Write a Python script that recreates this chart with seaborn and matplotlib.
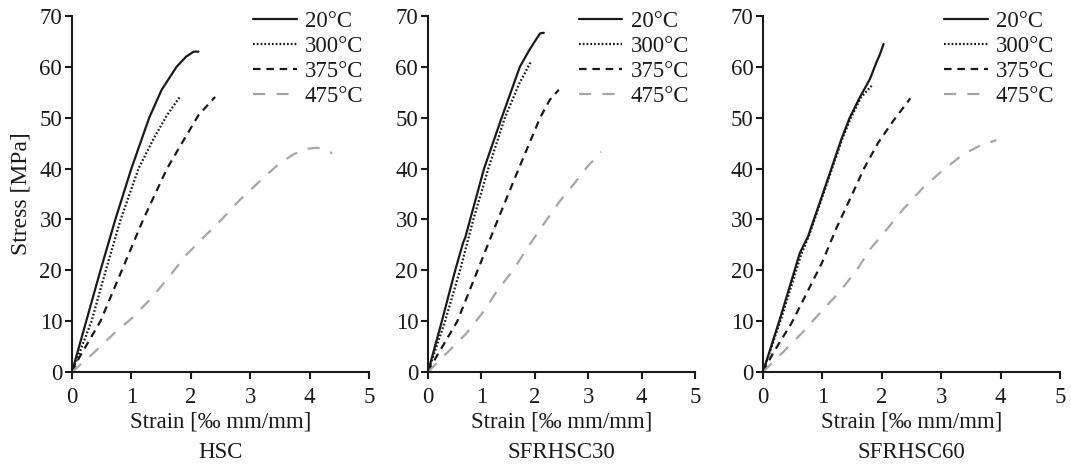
import matplotlib
matplotlib.use("Agg")
import matplotlib.pyplot as plt
import seaborn as sns
import pandas as pd

sns.set_theme(style="ticks")
plt.rcParams["font.family"] = ["Liberation Serif", "DejaVu Serif"]

temps = ["20°C", "300°C", "375°C", "475°C"]
mixes = ["HSC", "SFRHSC30", "SFRHSC60"]

# Stress-strain curves: strain [‰], stress [MPa]
hsc_20_x = [0, 0.24, 0.48, 0.73, 1.00, 1.30, 1.51, 1.76, 1.92, 2.05, 2.13]
hsc_20_y = [0, 10, 20, 30, 40, 50, 55.5, 60, 62, 63, 63]
hsc_300_x = [0, 0.10, 0.33, 0.57, 0.82, 1.12, 1.38, 1.60, 1.81]
hsc_300_y = [0, 3, 10, 20, 30, 40, 46, 50.5, 54]
hsc_375_x = [0, 0.13, 0.48, 0.84, 1.20, 1.60, 1.85, 2.13, 2.41]
hsc_375_y = [0, 3, 10, 20, 30, 40, 45, 50.5, 54.1]
hsc_475_x = [0, 0.36, 0.70, 1.01, 1.31, 1.62, 1.93, 2.21, 2.52, 2.83, 3.17,
             3.48, 3.73, 3.96, 4.12, 4.24, 4.38]
hsc_475_y = [0, 3.7, 7.5, 10.6, 14.2, 18.5, 23.1, 26.4, 30, 33.9, 37.6,
             40.9, 42.8, 43.9, 44.1, 43.8, 43.0]

sf30_20_x = [0, 0.26, 0.51, 0.66, 0.70, 0.79, 1.05, 1.38, 1.72, 1.88, 2.0, 2.1, 2.17]
sf30_20_y = [0, 10, 20, 25.5, 26.5, 30, 40, 50, 60, 63, 65, 66.6, 66.7]
sf30_300_x = [0, 0.32, 0.60, 0.85, 1.13, 1.44, 1.70, 1.92]
sf30_300_y = [0, 10, 20, 30, 40, 50, 56.5, 60.9]
sf30_375_x = [0, 0.13, 0.55, 0.93, 1.31, 1.70, 2.10, 2.28, 2.45]
sf30_375_y = [0, 2.5, 10, 20, 30, 40, 50, 53.5, 55.5]
sf30_475_x = [0, 0.35, 0.72, 1.04, 1.29, 1.60, 1.88, 2.16, 2.47, 2.75, 2.97, 3.24]
sf30_475_y = [0, 3.7, 7.6, 11.9, 15.9, 20.1, 24.7, 29, 33.6, 37.2, 40.2, 43.3]

sf60_20_x = [0, 0.30, 0.62, 0.76, 1.07, 1.32, 1.46, 1.63, 1.80, 1.91, 1.97, 2.03]
sf60_20_y = [0, 11, 23.4, 26.7, 37.2, 45.8, 50, 54, 57.6, 60.9, 62.5, 64.5]
sf60_300_x = [0, 0.32, 0.64, 0.78, 1.09, 1.34, 1.48, 1.65, 1.83]
sf60_300_y = [0, 11, 23, 27, 37.5, 46, 50, 54, 56.3]
sf60_375_x = [0, 0.17, 0.48, 0.71, 0.99, 1.24, 1.46, 1.70, 1.94, 2.20, 2.48]
sf60_375_y = [0, 3.7, 9.6, 14.9, 21.4, 28.4, 33.9, 40, 45.1, 49.5, 53.8]
sf60_475_x = [0, 0.26, 0.65, 0.96, 1.30, 1.58, 1.80, 2.08, 2.36, 2.70, 3.01,
              3.37, 3.65, 3.93]
sf60_475_y = [0, 3, 7.6, 11.6, 15.9, 20.1, 24.1, 28, 32, 36.3, 39.5,
              42.8, 44.5, 45.6]

curves = {
    "HSC": [(hsc_20_x, hsc_20_y), (hsc_300_x, hsc_300_y),
            (hsc_375_x, hsc_375_y), (hsc_475_x, hsc_475_y)],
    "SFRHSC30": [(sf30_20_x, sf30_20_y), (sf30_300_x, sf30_300_y),
                 (sf30_375_x, sf30_375_y), (sf30_475_x, sf30_475_y)],
    "SFRHSC60": [(sf60_20_x, sf60_20_y), (sf60_300_x, sf60_300_y),
                 (sf60_375_x, sf60_375_y), (sf60_475_x, sf60_475_y)],
}

styles = {
    "20°C": dict(color="#1a1a1a", linestyle="-"),
    "300°C": dict(color="#1a1a1a", linestyle=(0, (0.8, 0.9))),
    "375°C": dict(color="#1a1a1a", linestyle=(0, (3.4, 2.6))),
    "475°C": dict(color="#a6a6a6", linestyle=(0, (5.5, 5))),
}

fig = plt.figure(figsize=(10.71, 4.69), dpi=100)
positions = [
    [0.0672, 0.2068, 0.2773, 0.759],
    [0.3996, 0.2068, 0.2493, 0.759],
    [0.7124, 0.2068, 0.2773, 0.759],
]

fs = 16.5
ink = "#1a1a1a"
for pos, mix in zip(positions, mixes):
    ax = fig.add_axes(pos)
    for temp, (xs, ys) in zip(temps, curves[mix]):
        df = pd.DataFrame({"strain": xs, "stress": ys})
        sns.lineplot(data=df, x="strain", y="stress", ax=ax, sort=False,
                     estimator=None, linewidth=1.6, label=temp, **styles[temp])
    ax.set_xlim(0, 5)
    ax.set_ylim(0, 70)
    ax.set_xticks(range(0, 6))
    ax.set_yticks(range(0, 71, 10))
    ax.tick_params(axis="both", labelsize=fs, length=5, width=1.5,
                   color=ink, labelcolor=ink)
    ax.tick_params(axis="x", pad=6)
    ax.tick_params(axis="y", pad=2)
    for s in ["top", "right"]:
        ax.spines[s].set_visible(False)
    for s in ["left", "bottom"]:
        ax.spines[s].set_linewidth(1.5)
        ax.spines[s].set_color(ink)
    ax.set_xlabel("Strain [‰ mm/mm]", fontsize=fs, color=ink, labelpad=2)
    if mix == "HSC":
        ax.set_ylabel("Stress [MPa]", fontsize=17, color=ink, labelpad=6)
    else:
        ax.set_ylabel("")
    ax.text(0.5, -0.225, mix, transform=ax.transAxes, ha="center", va="center",
            fontsize=fs, color=ink)
    leg = ax.legend(loc="upper right", bbox_to_anchor=(1.012, 1.04), frameon=False,
                    fontsize=fs, handlelength=1.9, handletextpad=0.35,
                    labelspacing=0.17, borderaxespad=0)
    for t in leg.get_texts():
        t.set_color(ink)

fig.savefig("out.png", dpi=100)
